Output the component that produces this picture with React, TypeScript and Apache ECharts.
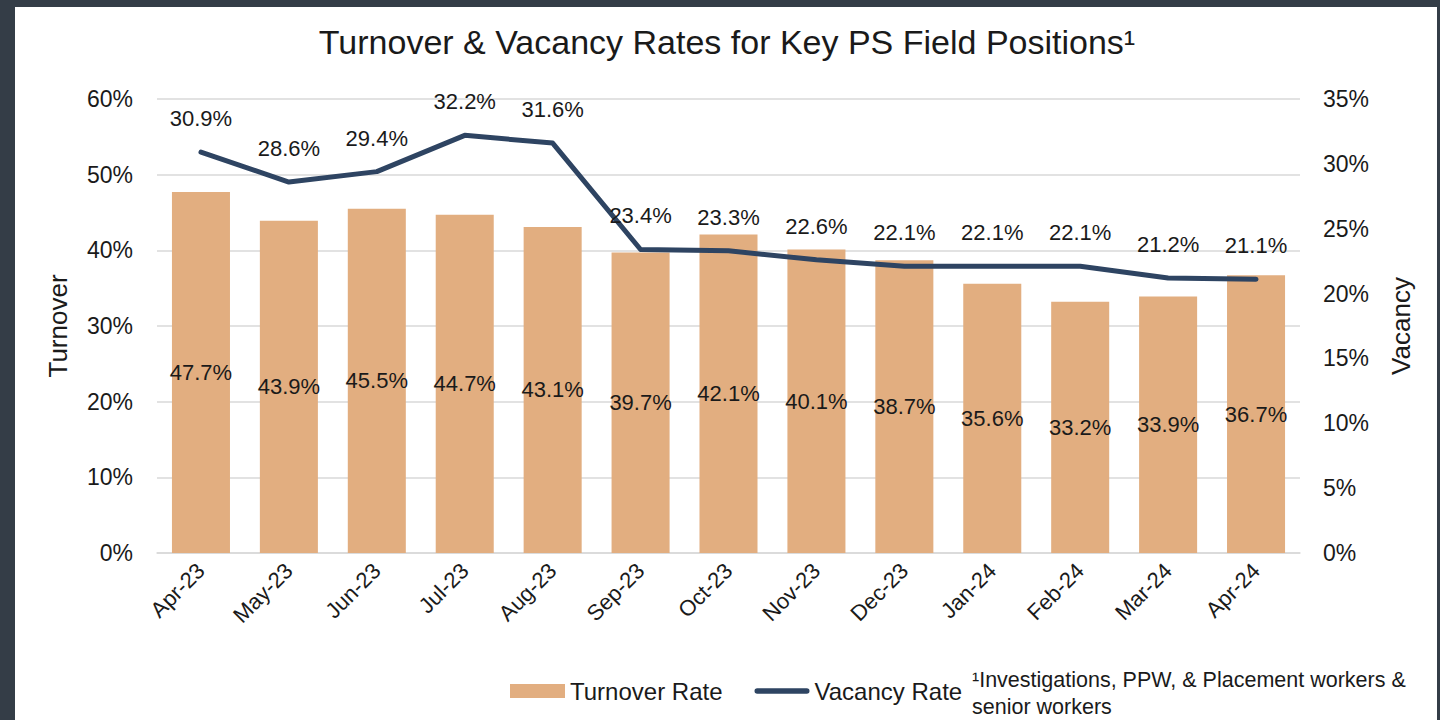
import React, { useEffect, useRef } from "react";
import * as echarts from "echarts";

const categories = ["Apr-23", "May-23", "Jun-23", "Jul-23", "Aug-23", "Sep-23", "Oct-23", "Nov-23", "Dec-23", "Jan-24", "Feb-24", "Mar-24", "Apr-24"];
const turnoverRate = [47.7, 43.9, 45.5, 44.7, 43.1, 39.7, 42.1, 40.1, 38.7, 35.6, 33.2, 33.9, 36.7];
const vacancyRate = [30.9, 28.6, 29.4, 32.2, 31.6, 23.4, 23.3, 22.6, 22.1, 22.1, 22.1, 21.2, 21.1];
const titleText = "Turnover & Vacancy Rates for Key PS Field Positions\u00B9";
const footnote = "\u00B9Investigations, PPW, & Placement workers &\nsenior workers";

const FONT = "Liberation Sans, Arial, sans-serif";
const TXT = "#1a1a1a";
const NAVY = "#2e4462";

export default function App() {
  const ref = useRef<HTMLDivElement>(null);
  useEffect(() => {
    if (!ref.current) return;
    const chart = echarts.init(ref.current, null, { renderer: "svg" });
    const pct = (p: any) => Number(p.value).toFixed(1) + "%";
    chart.setOption({
      animation: false,
      backgroundColor: "#343d47",
      textStyle: { fontFamily: FONT },
      graphic: [
        { type: "rect", z: -10, shape: { x: 15, y: 7, width: 1422, height: 720 }, style: { fill: "#ffffff" } },
        {
          type: "text", x: 727, y: 42,
          style: { text: titleText, fontSize: 34, fontFamily: FONT, fill: TXT, textAlign: "center", textVerticalAlign: "middle" },
        },
        {
          type: "text", x: 972, y: 666,
          style: { text: footnote, fontSize: 21.5, lineHeight: 27, fontFamily: FONT, fill: TXT, textAlign: "left", textVerticalAlign: "top" },
        },
      ],
      legend: {
        left: 505, top: 674,
        itemWidth: 55, itemHeight: 14, itemGap: 32,
        symbolKeepAspect: true,
        textStyle: { fontSize: 24, fontFamily: FONT, color: TXT },
        data: [
          { name: "Turnover Rate", icon: "rect" },
          {
            name: "Vacancy Rate",
            icon: "path://M3,0 H57 A3,3 0 0 1 57,6 H3 A3,3 0 0 1 3,0 Z",
            itemStyle: { color: NAVY, borderWidth: 0 },
            lineStyle: { width: 0 },
          },
        ],
      },
      grid: { left: 157, right: 140, top: 99, bottom: 167, containLabel: false },
      xAxis: {
        type: "category",
        data: categories,
        axisTick: { show: false },
        axisLine: { lineStyle: { color: "#d9d9d9", width: 1.5 } },
        axisLabel: { rotate: 45, fontSize: 22, color: TXT, margin: 14, interval: 0 },
      },
      yAxis: [
        {
          type: "value", min: 0, max: 60, interval: 10,
          name: "Turnover", nameLocation: "middle", nameGap: 86, nameRotate: 90,
          nameTextStyle: { fontSize: 26, color: TXT },
          axisLabel: { formatter: "{value}%", fontSize: 23, color: TXT, margin: 24 },
          splitLine: { lineStyle: { color: "#d9d9d9", width: 1.5 } },
          axisLine: { show: false }, axisTick: { show: false },
        },
        {
          type: "value", min: 0, max: 35, interval: 5,
          name: "Vacancy", nameLocation: "middle", nameGap: 88, nameRotate: 90,
          nameTextStyle: { fontSize: 26, color: TXT },
          axisLabel: { formatter: "{value}%", fontSize: 23, color: TXT, margin: 23 },
          splitLine: { show: false },
          axisLine: { show: false }, axisTick: { show: false },
        },
      ],
      series: [
        {
          name: "Turnover Rate",
          type: "bar",
          data: turnoverRate,
          yAxisIndex: 0,
          barCategoryGap: "34%",
          itemStyle: { color: "#e2ae80" },
          label: { show: true, position: "inside", formatter: pct, fontSize: 22, color: TXT },
        },
        {
          name: "Vacancy Rate",
          type: "line",
          data: vacancyRate,
          yAxisIndex: 1,
          symbol: "none",
          lineStyle: { color: NAVY, width: 5, cap: "round", join: "round" },
          itemStyle: { color: NAVY },
          z: 5,
        },
        {
          name: "Vacancy Labels",
          type: "scatter",
          data: vacancyRate,
          yAxisIndex: 1,
          symbolSize: 1,
          itemStyle: { color: "rgba(0,0,0,0)", opacity: 1 },
          label: { show: true, position: "top", distance: 22, formatter: pct, fontSize: 22, color: TXT, opacity: 1 },
          silent: true,
          z: 6,
        },
      ],
    });
    return () => chart.dispose();
  }, []);
  return <div ref={ref} style={{ position: "absolute", left: 0, top: 0, width: 1440, height: 720 }} />;
}
